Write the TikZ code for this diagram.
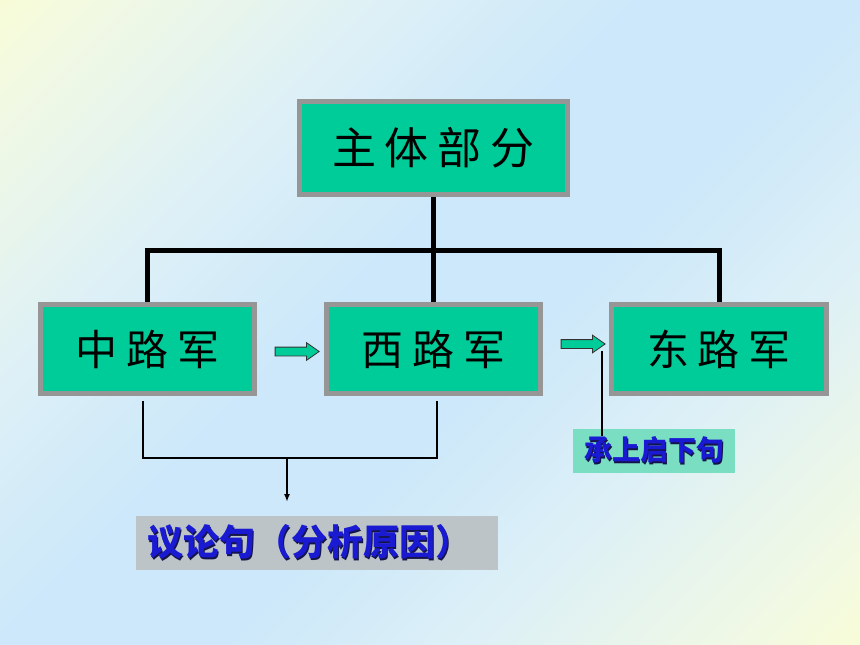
\documentclass[tikz,border=0pt]{standalone}
\usepackage{fontspec}
\newfontfamily\cjk{Noto Sans CJK SC}
\usetikzlibrary{shapes.arrows,arrows.meta,calc}
\definecolor{boxgreen}{HTML}{00CC99}
\definecolor{boxrim}{HTML}{969696}
\definecolor{notegreen}{HTML}{7ADFC2}
\definecolor{notegray}{HTML}{BCC4C8}
\definecolor{noteblue}{HTML}{1A1AD2}
\definecolor{noteshade}{HTML}{14144A}
\definecolor{bgyellow}{HTML}{FFFFC8}
\definecolor{bgcream}{HTML}{F1F9E4}
\definecolor{bgpale}{HTML}{DDF0F7}
\definecolor{bgblue}{HTML}{CCE8FA}
\pgfdeclarehorizontalshading{slidebg}{100bp}{color(0bp)=(bgyellow); color(8bp)=(bgyellow); color(20bp)=(bgcream); color(33bp)=(bgpale); color(45bp)=(bgblue); color(55bp)=(bgblue); color(67bp)=(bgpale); color(80bp)=(bgcream); color(92bp)=(bgyellow); color(100bp)=(bgyellow)}
\newcommand{\gap}{\hspace{9pt}}
\newcommand{\shadowed}[1]{{\color{noteshade}\rlap{\hspace{1.5pt}\raisebox{-1.5pt}{#1}}}#1}
\begin{document}
\begin{tikzpicture}[x=1pt,y=-1pt,
    armybox/.style={draw=boxrim,line width=5pt,fill=boxgreen,inner sep=0pt,
      minimum width=214pt,minimum height=89pt,font=\cjk\fontsize{42pt}{50pt}\selectfont},
    notebox/.style={inner ysep=0pt,text=noteblue,font=\cjk\bfseries},
    flowarrow/.style={single arrow,draw=black!80,line width=0.8pt,fill=boxgreen,
      inner xsep=0pt,inner ysep=4pt,minimum height=44pt,
      single arrow head extend=4.5pt,single arrow tip angle=70},
    trunk/.style={line width=5pt},
    twig/.style={line width=1.8pt}]
  % background
  \shade[shading=slidebg,shading angle=-45] (0,0) rectangle (860,645);
  % boxes
  \node[armybox,minimum width=268pt,minimum height=93pt,
    font=\cjk\fontsize{44pt}{52pt}\selectfont] (top) at (433.5,148) {主\gap 体\gap 部\gap 分};
  \node[armybox] (zhong) at (147.5,349) {中\gap 路\gap 军};
  \node[armybox] (xi) at (433.5,349) {西\gap 路\gap 军};
  \node[armybox,minimum width=215pt] (dong) at (719,349) {东\gap 路\gap 军};
  \node[flowarrow] (stepa) at (294,351.5) {};
  \node[flowarrow] (stepb) at (580,344) {};
  \node[notebox,fill=notegray,minimum height=54pt,text width=340pt,inner xsep=11pt,
    align=left,font=\cjk\bfseries\fontsize{36pt}{40pt}\selectfont] (yilun) at (317,543) {\shadowed{议论句（分析原因）}};
  \node[notebox,fill=notegreen,minimum height=44pt,text width=142pt,inner xsep=10pt,
    align=center,font=\cjk\bfseries\fontsize{28pt}{32pt}\selectfont] (cheng) at (654,451) {\shadowed{承上启下句}};
  % connectors
  \coordinate (fork) at (433.5,250);
  \draw[trunk] (zhong.north) |- (fork) -| (dong.north);
  \draw[trunk] (top.south) -- (xi.north);
  \coordinate (zhongfoot) at (143,401);
  \coordinate (xifoot) at (437,401);
  \coordinate (meet) at (287,458);
  \coordinate (yiluntip) at (287,502);
  \draw[twig] (zhongfoot) |- (meet) -| (xifoot);
  \draw[twig,-{Latex[length=8pt,width=6pt]}] (meet) -- (yiluntip);
  \coordinate (hook) at (602,351);
  \draw[twig] (hook) -- ($(hook |- cheng.north)+(0,7)$);
\end{tikzpicture}
\end{document}
